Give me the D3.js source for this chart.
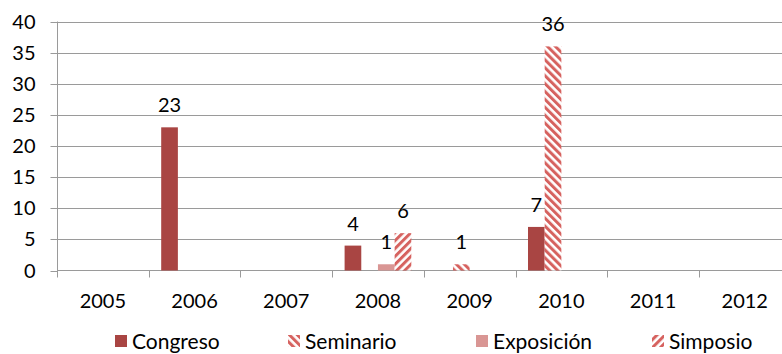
<!DOCTYPE html>
<html>
<head>
<meta charset="utf-8">
<script src="https://cdn.jsdelivr.net/npm/d3@7/dist/d3.min.js"></script>
<style>
  html, body { margin: 0; padding: 0; background: #fff; }
  svg { display: block; font-family: Lato, "Open Sans", sans-serif; }
</style>
</head>
<body>
<svg id="chart" width="782" height="354"></svg>
<script>
const years = ["2005", "2006", "2007", "2008", "2009", "2010", "2011", "2012"];
const seriesNames = ["Congreso", "Seminario", "Exposición", "Simposio"];
const congreso   = [0, 23, 0, 4, 0, 7, 0, 0];
const seminario  = [0, 0, 0, 0, 1, 36, 0, 0];
const exposicion = [0, 0, 0, 1, 0, 0, 0, 0];
const simposio   = [0, 0, 0, 6, 0, 0, 0, 0];
const yTicks = [0, 5, 10, 15, 20, 25, 30, 35, 40];

const seriesValues = [congreso, seminario, exposicion, simposio];

const svg = d3.select("#chart");
const W = 782, H = 354;
const FS = 20;

// patterns
const defs = svg.append("defs");
function stripe(id, angle) {
  const p = defs.append("pattern")
    .attr("id", id)
    .attr("patternUnits", "userSpaceOnUse")
    .attr("width", 5.6).attr("height", 5.6)
    .attr("patternTransform", `rotate(${angle})`);
  p.append("rect").attr("width", 5.6).attr("height", 5.6).attr("fill", "#fff");
  p.append("rect").attr("width", 3).attr("height", 5.6).attr("fill", "#D6625F");
}
stripe("pSem", -45);
stripe("pSim", 45);

const fills = ["#A94543", "url(#pSem)", "#D99694", "url(#pSim)"];

const x0 = 57, bw = 91.7;
const x = d3.scaleBand().domain(years).range([x0, x0 + bw * years.length]).padding(0);
const gap = 12.5;
const x1 = d3.scaleBand().domain(seriesNames).range([gap, x.bandwidth() - gap]).padding(0);
const y = d3.scaleLinear().domain([0, 40]).range([270.5, 21.5]);

const gridColor = "#9a9a9a";

// gridlines
svg.append("g").selectAll("line").data(yTicks.filter(d => d > 0)).join("line")
  .attr("x1", x0).attr("x2", W)
  .attr("y1", d => Math.round(y(d)) + 0.5).attr("y2", d => Math.round(y(d)) + 0.5)
  .attr("stroke", gridColor).attr("stroke-width", 1);

// y axis
const yAxis = d3.axisLeft(y).tickValues(yTicks).tickSize(7).tickPadding(15);
const gy = svg.append("g").attr("transform", `translate(${x0 + 0.5},0)`).call(yAxis);
gy.select(".domain").attr("stroke", gridColor).attr("d", `M0,${y(40)}V${y(0)}`);
gy.selectAll(".tick line").attr("stroke", gridColor);
gy.selectAll(".tick").attr("transform", d => `translate(0,${Math.round(y(d)) + 0.5})`);
gy.selectAll("text").attr("font-size", FS).attr("fill", "#000").attr("font-family", "Lato");

// x axis
const gx = svg.append("g").attr("transform", `translate(0,${y(0)})`);
gx.append("line").attr("x1", x0).attr("x2", W).attr("y1", 0).attr("y2", 0).attr("stroke", gridColor);
gx.selectAll("line.tk").data(years.concat(["end"])).join("line").attr("class", "tk")
  .attr("x1", (d, i) => Math.round(x0 + i * x.bandwidth()) + 0.5)
  .attr("x2", (d, i) => Math.round(x0 + i * x.bandwidth()) + 0.5)
  .attr("y1", 0).attr("y2", 7).attr("stroke", gridColor);
gx.selectAll("text").data(years).join("text")
  .attr("x", d => x(d) + x.bandwidth() / 2)
  .attr("y", 37)
  .attr("text-anchor", "middle")
  .attr("font-size", FS)
  .attr("fill", "#000")
  .text(d => d);

// bars
const barData = [];
seriesNames.forEach((s, si) => {
  years.forEach((yr, i) => {
    barData.push({ s, si, yr, v: seriesValues[si][i] });
  });
});
svg.append("g").selectAll("rect").data(barData.filter(d => d.v > 0)).join("rect")
  .attr("x", d => x(d.yr) + x1(d.s))
  .attr("width", x1.bandwidth())
  .attr("y", d => y(d.v))
  .attr("height", d => y(0) - y(d.v))
  .attr("fill", d => fills[d.si]);

// labels
svg.append("g").selectAll("text").data(barData.filter(d => d.v > 0)).join("text")
  .attr("x", d => x(d.yr) + x1(d.s) + x1.bandwidth() / 2)
  .attr("y", d => y(d.v) - 15)
  .attr("text-anchor", "middle")
  .attr("font-size", FS)
  .attr("fill", "#000")
  .text(d => d.v);

// legend
const legendX = [115, 288, 476, 652];
const lg = svg.append("g");
seriesNames.forEach((s, i) => {
  lg.append("rect").attr("x", legendX[i]).attr("y", 335).attr("width", 12).attr("height", 12)
    .attr("fill", fills[i]);
  lg.append("text").attr("x", legendX[i] + 17).attr("y", 348.5)
    .attr("font-size", FS + 1).attr("fill", "#000").text(s);
});
</script>
</body>
</html>
